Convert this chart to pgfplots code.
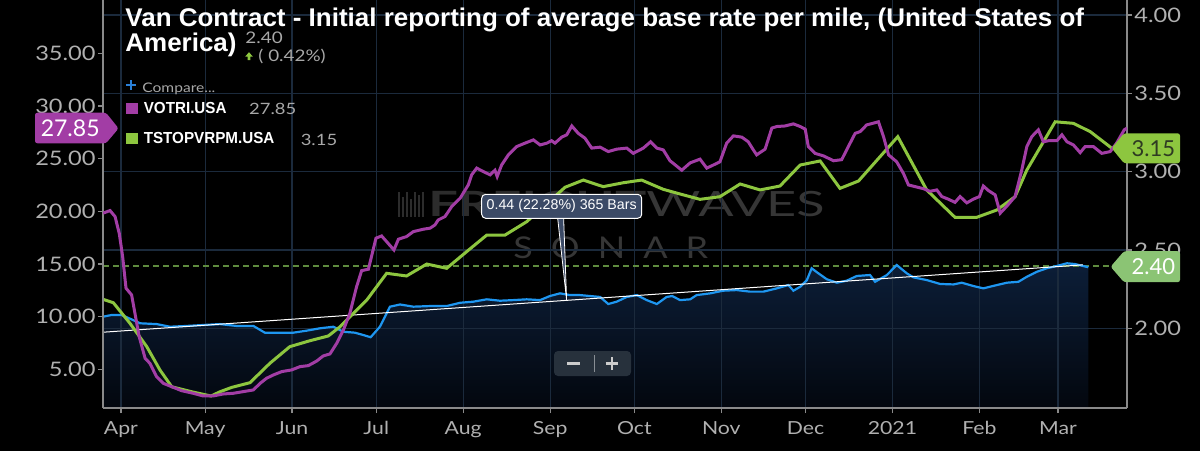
\documentclass[border=0pt]{standalone}
\usepackage{pgfplots}
\pgfplotsset{compat=1.18}
\usepackage{pgfplotstable}
\usepackage{fontspec}
\setmainfont{Lato}
\newfontfamily\rob{Lato}[FakeStretch=1.18]
\newfontfamily\titlefont{Liberation Sans}[FakeStretch=1.015]
\newfontfamily\legfont{Liberation Sans}[FakeStretch=0.95]
\newfontfamily\arialfont{Liberation Sans}
\definecolor{purp}{HTML}{A23DA5}
\definecolor{lime}{HTML}{8DC63F}
\definecolor{lblue}{HTML}{1E96F0}
\definecolor{ticklab}{HTML}{B0B0B0}
\definecolor{gridc}{HTML}{1B2A3C}
\definecolor{axc}{HTML}{8A8A8A}
\definecolor{fillt}{HTML}{0C1E38}
\definecolor{fillb}{HTML}{03070E}
\definecolor{dashc}{HTML}{5F8C3F}
\definecolor{mkb}{HTML}{8BC474}
\definecolor{wm}{HTML}{2C2C2C}
\definecolor{wm2}{HTML}{363636}
\definecolor{boxc}{HTML}{3B4A66}
\definecolor{btnc}{HTML}{27313C}
\definecolor{legnum}{HTML}{A8A8A8}
\definecolor{plusc}{HTML}{2A80D8}
\definecolor{mktxt}{HTML}{2E3A22}

\pgfplotstableread{
x y
-6.4 2.074
-3.3 2.085
0.2 2.085
3.8 2.057
6.8 2.032
12.7 2.027
17.5 2.010
23.4 2.015
29.3 2.021
35.3 2.027
41.2 2.015
47.2 2.015
51.3 1.972
56.7 1.972
61.4 1.972
66.2 1.985
70.9 2.000
75.7 2.010
79.3 1.978
83.4 1.972
86.4 1.957
89.0 1.943
92.3 2.010
95.9 2.138
99.5 2.152
104.2 2.138
110.2 2.142
116.1 2.142
120.9 2.163
125.6 2.170
130.4 2.185
135.1 2.176
139.9 2.180
144.6 2.185
149.4 2.180
152.9 2.206
156.5 2.223
160.1 2.212
163.6 2.212
167.2 2.206
170.8 2.200
173.7 2.155
176.7 2.170
180.3 2.200
183.9 2.212
187.4 2.180
191.0 2.155
194.5 2.200
196.5 2.206
199.3 2.180
202.9 2.185
205.2 2.212
210.0 2.223
214.7 2.240
219.5 2.244
224.2 2.234
229.0 2.234
233.8 2.255
237.9 2.276
239.7 2.240
242.1 2.265
244.5 2.308
246.2 2.383
248.6 2.351
251.6 2.313
255.2 2.291
258.7 2.304
262.3 2.334
267.0 2.340
268.8 2.297
273.0 2.340
276.5 2.404
280.1 2.351
282.5 2.325
287.2 2.308
292.0 2.283
296.7 2.280
299.7 2.291
303.8 2.270
307.4 2.255
312.2 2.276
315.8 2.291
319.9 2.297
322.9 2.329
326.5 2.361
330.0 2.383
333.6 2.398
337.2 2.415
340.1 2.410
342.8 2.398
344.8 2.390
}\bluedata

\pgfplotstableread{
x y
-6.4 2.185
-2.7 2.163
3.2 2.032
9.2 1.883
13.9 1.734
18.1 1.627
25.2 1.595
32.1 1.568
35.3 1.595
39.5 1.623
46.0 1.653
53.1 1.777
60.2 1.883
67.4 1.921
73.9 1.951
78.1 2.010
87.6 2.180
94.7 2.351
101.8 2.334
109.0 2.410
116.1 2.383
123.2 2.489
130.4 2.595
136.9 2.595
144.6 2.680
150.6 2.776
158.3 2.900
164.8 2.946
171.9 2.904
179.1 2.929
185.6 2.946
193.3 2.887
199.3 2.857
206.4 2.823
213.5 2.840
220.7 2.921
227.8 2.883
234.9 2.908
242.1 3.042
249.2 3.068
256.3 2.893
262.9 2.940
276.9 3.223
287.2 2.883
297.3 2.708
305.0 2.708
312.2 2.755
318.7 2.840
322.9 3.010
333.0 3.318
339.5 3.308
345.5 3.255
353.2 3.149
}\greendata

\pgfplotstableread{
x y
-6.4 19.82
-3.9 20.07
-2.1 19.50
-0.6 17.90
0.6 15.70
1.8 12.70
3.8 12.06
5.0 10.30
6.5 8.10
8.6 6.05
10.3 5.57
12.7 4.30
15.1 3.67
18.1 3.35
21.6 2.97
25.8 2.72
29.3 2.47
32.9 2.47
36.5 2.66
40.0 2.72
43.6 2.88
47.2 3.04
49.6 3.67
51.9 4.15
54.3 4.46
57.3 4.78
60.8 4.94
63.8 5.25
66.8 5.35
69.8 5.79
72.1 6.27
74.5 6.46
76.9 7.47
79.3 8.74
81.6 10.32
84.0 12.85
85.8 14.37
88.2 14.50
90.9 17.45
92.9 17.66
94.7 17.12
97.3 16.33
98.9 17.35
101.8 17.60
104.2 18.07
107.8 18.30
110.2 18.40
111.9 18.70
113.1 19.18
115.5 19.50
117.9 20.45
120.9 21.24
123.8 22.50
125.0 23.46
126.8 24.10
129.2 23.77
131.6 23.46
133.3 23.90
134.1 23.30
135.7 24.40
138.1 25.36
141.1 26.15
144.0 26.47
147.0 26.78
149.4 26.30
151.8 26.47
153.5 26.70
154.7 26.47
157.1 27.04
158.9 27.26
160.7 28.10
163.0 27.40
165.4 26.94
167.8 26.00
170.8 26.09
173.7 25.67
176.7 25.90
180.3 26.00
182.6 25.50
186.2 26.00
188.8 26.60
191.0 26.00
193.3 25.83
195.7 24.80
199.9 23.90
202.9 24.60
206.4 24.95
208.8 24.10
211.2 24.40
213.5 24.70
215.9 26.47
218.3 27.16
221.3 27.04
223.6 26.60
225.4 25.83
226.6 25.36
229.6 25.90
232.0 27.90
233.8 28.05
236.7 28.10
239.7 28.30
242.1 28.05
243.9 27.80
245.0 26.15
247.4 25.50
250.4 25.26
254.0 24.80
256.9 24.90
259.9 26.47
261.7 27.40
263.5 27.57
265.8 28.20
268.2 28.37
270.0 28.50
271.8 27.10
273.6 25.36
276.5 24.70
278.9 23.60
280.7 22.50
283.7 22.30
286.0 22.15
288.4 21.90
290.8 22.03
292.6 21.40
294.9 21.15
297.3 20.85
299.1 21.40
301.5 20.80
303.8 21.15
306.0 21.40
307.4 22.40
309.2 21.97
311.6 21.56
313.4 19.82
315.8 20.50
318.7 21.40
321.1 23.93
322.9 26.15
324.7 27.10
327.0 27.73
328.8 26.60
330.6 26.70
333.6 26.70
335.4 27.26
337.2 26.60
339.5 26.30
341.9 25.57
343.7 26.15
346.6 26.15
349.6 25.50
352.6 25.67
354.9 26.47
357.6 27.73
358.6 27.90
}\purpledata

\pgfplotsset{
  base/.style={at={(51.5pt,21.5pt)}, anchor=south west, scale only axis,
    width=512pt, height=204pt, xmin=-6.4, xmax=358.6, clip mode=individual,
    axis line style={draw=axc, line width=0.6pt, -},
    tick style={draw=axc, line width=0.6pt}, major tick length=2.5pt, tick align=outside,
    ticklabel style={text=ticklab, inner sep=0pt},
  },
  rscale/.style={ymin=1.4914, ymax=4.0951},
  lscale/.style={ymin=1.326, ymax=40.06},
}

\begin{document}
\begin{tikzpicture}[x=1pt,y=1pt]
\useasboundingbox (0,0) rectangle (600,225.5);
\fill[black] (0,0) rectangle (600,225.5);

% watermark
\foreach \bx/\bh in {199/12.5,201/10,203/12.5,205/9,207/12.5,209/11,211/12.5}{
  \fill[wm] (\bx,117) rectangle ++(1.2,\bh);
}
\node[anchor=base west, inner sep=0, text=wm, font=\fontsize{17.4}{18}\selectfont] at (214,117.2)
  {\scalebox{1.5}[1]{\bfseries FREIGHT\mdseries\color{wm2}WAVES}};
\node[anchor=base west, inner sep=0, text=wm2, font=\fontsize{15}{16}\selectfont] at (256.5,96.35)
  {\scalebox{1.2}[1]{S\hspace{7.5pt}O\hspace{7.5pt}N\hspace{7.5pt}A\hspace{7.5pt}R}};

% fill under the blue series
\begin{axis}[base, rscale, hide axis]
\addplot[draw=none, top color=fillt, bottom color=fillb] table[x=x,y=y]{\bluedata}
  -- (axis cs:344.8,1.4914) -- (axis cs:-6.4,1.4914) -- cycle;
\end{axis}

% right-hand scale: blue and green
\begin{axis}[base, rscale,
  axis x line*=bottom, axis y line*=right,
  xtick pos=bottom, xticklabel pos=bottom, ytick pos=right, yticklabel pos=right,
  xtick={0,30,61,91,122,153,183,214,244,275,306,334},
  xticklabels={Apr,May,Jun,Jul,Aug,Sep,Oct,Nov,Dec,2021,Feb,Mar},
  ytick={2,2.5,3,3.5,4},
  grid=major, major grid style={draw=gridc, line width=0.6pt},
  xticklabel style={font=\rob\fontsize{9}{10}\selectfont, anchor=north, yshift=-4pt},
  yticklabel style={font=\rob\fontsize{10}{11}\selectfont, anchor=west, xshift=1pt,
     /pgf/number format/.cd, fixed, fixed zerofill, precision=2, assume math mode=true},
]
\addplot[dashc, densely dashed, line width=0.6pt] coordinates {(-6.4,2.398) (358.6,2.398)};
\addplot[lblue, line width=1.1pt] table[x=x,y=y]{\bluedata};
\addplot[white, line width=0.5pt] coordinates {(-6.4,1.975) (342.9,2.405)};
\addplot[lime, line width=1.5pt] table[x=x,y=y]{\greendata};
\end{axis}

% left-hand scale: purple
\begin{axis}[base, lscale,
  axis x line=none, axis y line*=left, ytick pos=left, yticklabel pos=left,
  xtick=\empty,
  ytick={5,10,15,20,25,30,35},
  yticklabel style={font=\rob\fontsize{10}{11}\selectfont, anchor=east, xshift=-1pt,
     /pgf/number format/.cd, fixed, fixed zerofill, precision=2, assume math mode=true},
]
\addplot[purp, line width=1.5pt] table[x=x,y=y]{\purpledata};
\end{axis}

% title and legend
\node[anchor=base west, inner sep=0, text=white, font=\titlefont\bfseries\fontsize{12.8}{14}\selectfont]
  at (62.5,212.2) {Van Contract - Initial reporting of average base rate per mile, (United States of};
\node[anchor=base west, inner sep=0, text=white, font=\titlefont\bfseries\fontsize{12.8}{14}\selectfont]
  at (62.5,199.6) {America)};
\node[anchor=base west, inner sep=0, text=legnum, font=\rob\fontsize{8}{9}\selectfont] at (122.5,203.8) {2.40};
\fill[lime] (122.6,197.2) -- (124.5,199.4) -- (126.4,197.2) -- (125.2,197.2) -- (125.2,195.4) -- (123.8,195.4) -- (123.8,197.2) -- cycle;
\node[anchor=base west, inner sep=0, text=legnum, font=\rob\fontsize{8}{9}\selectfont] at (129,194.7) {( 0.42\%)};
\draw[plusc, line width=0.9pt] (63,183) -- (68,183) (65.5,180.5) -- (65.5,185.5);
\node[anchor=base west, inner sep=0, text=legnum, font=\rob\fontsize{6.6}{7}\selectfont] at (71,179.2) {Compare...};
\fill[purp] (62.8,168.4) rectangle (68.8,174.2);
\node[anchor=base west, inner sep=0, text=white, font=\legfont\bfseries\fontsize{8}{9}\selectfont] at (71.7,168.5) {VOTRI.USA};
\node[anchor=base west, inner sep=0, text=legnum, font=\rob\fontsize{7.8}{9}\selectfont] at (124.4,168) {27.85};
\fill[lime] (62.8,153.4) rectangle (68.8,159.2);
\node[anchor=base west, inner sep=0, text=white, font=\legfont\bfseries\fontsize{8}{9}\selectfont] at (71.7,153.5) {TSTOPVRPM.USA};
\node[anchor=base west, inner sep=0, text=legnum, font=\rob\fontsize{7.8}{9}\selectfont] at (150.2,153) {3.15};

% value markers
\fill[purp, rounded corners=1.2pt] (17.5,153.85) -- (53,153.85) -- (59.3,161.3) -- (53,169.15) -- (17.5,169.15) -- cycle;
\node[text=white, inner sep=0, font=\fontsize{11.5}{12}\selectfont] at (35.1,161.4) {27.85};
\fill[lime, rounded corners=1.2pt] (590,143.85) -- (562,143.85) -- (555.85,151.4) -- (562,158.85) -- (590,158.85) -- cycle;
\node[text=mktxt, inner sep=0, font=\fontsize{11}{12}\selectfont] at (576.7,151.4) {3.15};
\fill[mkb, rounded corners=1.2pt] (590,84.4) -- (562,84.4) -- (555.3,92.15) -- (562,99.9) -- (590,99.9) -- cycle;
\node[text=white, inner sep=0, font=\fontsize{11}{12}\selectfont] at (576.7,92.15) {2.40};

% measurement callout
\draw[white, line width=0.4pt, fill=boxc] (278.8,116.8) -- (283.3,75.5) -- (281.8,116.8);
\node[draw=white, fill=boxc, rounded corners=2pt, line width=0.5pt, minimum width=80pt, minimum height=12pt,
  text=white, inner sep=0pt, font=\arialfont\fontsize{7.1}{8}\selectfont] at (280.85,122.35) {0.44 (22.28\%) 365 Bars};

% zoom buttons
\fill[btnc, rounded corners=2pt] (277,37.5) rectangle (315.5,50);
\draw[white!45!btnc, line width=0.5pt] (297,39.5) -- (297,48);
\draw[white!80!black, line width=1.3pt] (283.5,43.75) -- (290,43.75);
\draw[white!80!black, line width=1.3pt] (302.8,43.75) -- (309.2,43.75) (306,40.5) -- (306,47);
\end{tikzpicture}
\end{document}
